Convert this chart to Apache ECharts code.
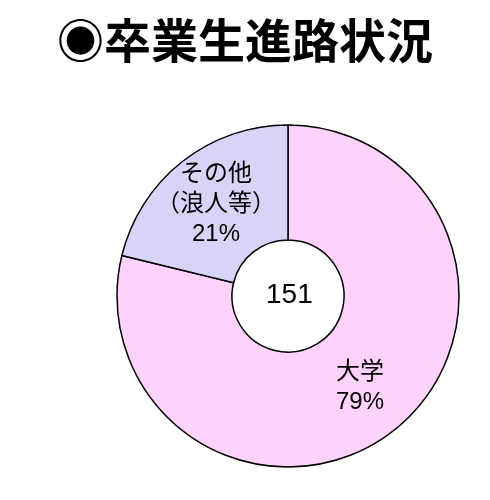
<!DOCTYPE html>
<html lang="ja">
<head>
    <meta charset="UTF-8">
    <title>卒業生進路状況</title>
    <script src="https://cdn.jsdelivr.net/npm/echarts@6/dist/echarts.min.js"></script>
    <style>
        html, body { margin: 0; padding: 0; background: #fff; }
    </style>
</head>
<body>
<div id="main" style="width: 490px;height: 500px;"></div>
<script type="text/javascript">
    // 進路別の人数（合計151）
    var categories = ['大学', 'その他\n（浪人等）'];
    var counts = [119, 32];
    var colors = ['#ffd2fc', '#d8d4f8'];
    var total = 151;

    var myChart = echarts.init(document.getElementById('main'));
    var data = [];
    for (var i = 0; i < categories.length; i++) {
        data.push({ name: categories[i], value: counts[i], itemStyle: { color: colors[i] } });
    }

    var fontFam = '"Liberation Sans", "Noto Sans CJK JP", sans-serif';
    var option = {
        backgroundColor: '#ffffff',
        animation: false,
        title: {
            text: '◉卒業生進路状況',
            left: 'center',
            top: 12,
            textStyle: {
                fontFamily: '"Noto Sans CJK JP", sans-serif',
                fontSize: 47,
                fontWeight: 'bold',
                color: '#000'
            }
        },
        graphic: [{
            type: 'text',
            left: 288 - 22,
            top: 296 - 15,
            style: {
                text: String(total),
                fontFamily: fontFam,
                fontSize: 28,
                fill: '#000'
            }
        }],
        series: [{
            type: 'pie',
            center: [288, 296],
            radius: [56, 171],
            startAngle: 90,
            clockwise: true,
            data: data,
            itemStyle: {
                borderColor: '#000',
                borderWidth: 1.5
            },
            label: {
                show: true,
                position: 'inside',
                fontFamily: fontFam,
                fontSize: 24,
                lineHeight: 30,
                color: '#000',
                formatter: function (p) {
                    return p.name + '\n' + Math.round(p.percent) + '%';
                }
            },
            labelLine: { show: false },
            emphasis: { disabled: true }
        }]
    };
    myChart.setOption(option);
</script>
</body>
</html>
